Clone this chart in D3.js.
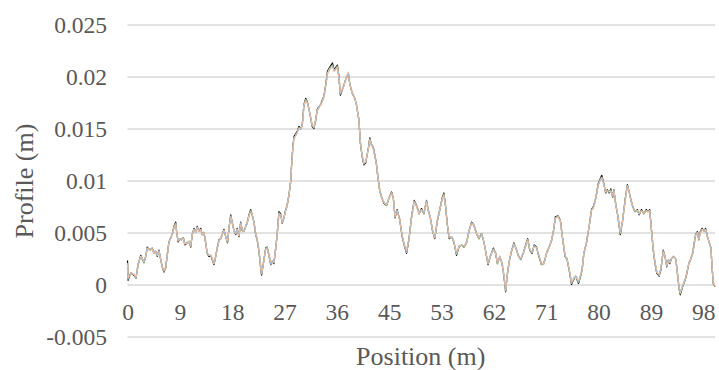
<!DOCTYPE html>
<html>
<head>
<meta charset="utf-8">
<script src="https://cdn.jsdelivr.net/npm/d3@7"></script>
<style>
  html, body { margin: 0; padding: 0; background: #fff; }
  svg { display: block; }
</style>
</head>
<body>
<svg id="chart" width="719" height="370"></svg>
<script>
// Station along the track (m)
const positions = [
  0, 0.1, 0.55, 1.1, 1.45, 1.8, 2.25, 2.5, 2.8, 3.1,
  3.35, 3.8, 4.2, 4.5, 4.8, 5.05, 5.35, 5.65, 5.9, 6.2,
  6.5, 6.75, 7.05, 7.35, 7.6, 7.9, 8.2, 8.35, 8.6, 8.9,
  9.15, 9.5, 9.75, 10.15, 10.45, 10.75, 11, 11.3, 11.6, 11.85,
  12.15, 12.45, 12.7, 13, 13.3, 13.55, 13.85, 14.15, 14.4, 14.7,
  15, 15.25, 15.55, 15.85, 16.1, 16.4, 16.7, 17, 17.25, 17.55,
  17.8, 18.1, 18.4, 18.65, 18.95, 19.25, 19.5, 19.8, 20.1, 20.35,
  20.65, 20.95, 21.2, 21.5, 21.8, 22.05, 22.35, 22.65, 22.8, 23.1,
  23.5, 23.75, 24.05, 24.35, 24.6, 24.9, 25.2, 25.45, 25.75, 26.05,
  26.3, 26.6, 26.9, 27.15, 27.45, 27.75, 27.9, 28.1, 28.3, 28.6,
  28.85, 29.15, 29.45, 29.7, 30, 30.3, 30.55, 30.85, 31.15, 31.4,
  31.7, 32, 32.25, 32.55, 32.85, 33.1, 33.4, 33.7, 34, 34.4,
  34.85, 35.15, 35.45, 35.7, 35.95, 36.2, 36.7, 37.15, 37.55, 37.8,
  38.2, 38.65, 38.9, 39.35, 39.6, 39.9, 40.2, 40.5, 40.95, 41.2,
  41.45, 41.8, 42.1, 42.35, 42.6, 42.9, 43.2, 43.6, 44.05, 44.45,
  44.9, 45.2, 45.5, 45.85, 46.3, 46.7, 47.05, 47.45, 47.85, 48.3,
  48.75, 49.15, 49.6, 50, 50.4, 50.85, 51.1, 51.5, 51.85, 52.25,
  52.65, 53.1, 53.5, 53.8, 54.1, 54.35, 54.7, 55.1, 55.5, 55.95,
  56.35, 56.8, 57.2, 57.65, 58.05, 58.5, 58.9, 59.35, 59.75, 60.2,
  60.6, 60.9, 61.3, 61.7, 62.2, 62.6, 62.9, 63.3, 63.7, 64,
  64.3, 64.55, 64.9, 65.3, 65.7, 66.05, 66.45, 66.85, 67.3, 67.7,
  68.05, 68.4, 68.8, 69.15, 69.55, 69.95, 70.4, 70.8, 71.25, 71.7,
  72.1, 72.45, 72.75, 73.2, 73.6, 73.9, 74.4, 74.75, 75.1, 75.5,
  75.8, 76.2, 76.7, 77.05, 77.3, 77.6, 78.05, 78.5, 78.9, 79.3,
  79.65, 80.05, 80.4, 80.65, 81, 81.3, 81.6, 81.9, 82.2, 82.5,
  82.7, 83, 83.4, 83.8, 84.2, 84.6, 85, 85.3, 85.5, 85.9,
  86.3, 86.7, 87, 87.4, 87.8, 88.2, 88.5, 88.8, 89.1, 89.4,
  89.7, 90, 90.4, 90.7, 91.1, 91.4, 91.7, 92, 92.2, 92.5,
  92.9, 93.25, 93.5, 93.8, 94, 94.4, 94.8, 95.05, 95.45, 95.75,
  96.1, 96.4, 96.6, 96.9, 97.15, 97.4, 97.7, 98, 98.3, 98.6,
  98.9, 99.2, 99.4, 99.6, 99.9
];

// Profile elevation per series, in millimetres
const profileMeasured = [
  2.3, 0.4, 1.1, 0.9, 0.6, 1.9, 2.8, 2.5, 2.1, 2.7,
  3.6, 3.3, 3.5, 3.0, 3.2, 2.7, 3.3, 2.4, 1.7, 1.2,
  1.6, 2.8, 4.1, 4.5, 4.8, 5.6, 6.0, 5.1, 4.1, 4.4,
  4.3, 4.5, 3.8, 4.0, 4.1, 3.6, 4.8, 5.4, 5.0, 5.6,
  5.1, 5.4, 4.8, 5.0, 4.0, 3.0, 2.7, 2.8, 2.4, 1.9,
  2.7, 3.5, 4.3, 4.4, 4.8, 5.3, 4.6, 4.0, 5.4, 6.7,
  6.0, 5.2, 4.8, 5.4, 4.6, 6.0, 5.2, 5.1, 5.6, 5.9,
  6.7, 7.2, 6.7, 6.0, 4.8, 4.3, 3.2, 1.6, 0.9, 2.0,
  3.5, 3.6, 2.8, 1.9, 2.2, 2.0, 3.5, 4.8, 7.0, 6.8,
  5.9, 6.4, 7.2, 7.6, 8.6, 9.9, 11.5, 13.1, 14.2, 14.5,
  14.7, 15.2, 15.0, 15.3, 17.3, 17.9, 17.6, 16.9, 16.0, 15.2,
  15.0, 15.8, 16.8, 17.1, 17.3, 17.7, 18.1, 19.2, 20.5, 20.9,
  21.3, 20.6, 20.9, 21.1, 20.0, 18.2, 19.0, 19.8, 20.3, 19.3,
  18.4, 17.9, 17.4, 15.8, 13.6, 12.3, 11.5, 11.7, 13.1, 14.1,
  13.5, 13.2, 12.3, 11.5, 10.2, 9.0, 8.4, 7.8, 7.6, 8.3,
  8.9, 8.3, 6.4, 7.2, 6.2, 4.6, 3.8, 3.0, 4.3, 6.5,
  8.1, 7.6, 6.8, 7.3, 6.8, 8.1, 7.2, 6.4, 5.2, 4.4,
  6.0, 7.2, 8.3, 8.8, 7.5, 5.9, 4.4, 4.6, 4.1, 2.8,
  3.6, 3.8, 3.6, 4.0, 5.1, 6.0, 5.7, 4.9, 4.4, 4.9,
  4.1, 3.2, 1.9, 2.7, 3.5, 3.0, 2.0, 2.7, 2.0, 0.8,
  -0.7, 0.8, 2.2, 3.2, 4.0, 3.5, 2.8, 2.4, 3.0, 3.8,
  4.4, 3.3, 3.0, 3.8, 3.6, 2.7, 1.9, 2.0, 3.0, 3.6,
  4.2, 5.2, 6.5, 6.6, 6.2, 4.8, 2.7, 2.4, 1.4, 0.0,
  0.4, 0.8, 0.1, 0.8, 1.4, 3.0, 4.0, 5.6, 7.2, 7.6,
  8.4, 9.7, 10.2, 10.5, 9.7, 8.8, 9.1, 8.8, 9.2, 8.4,
  9.1, 7.8, 6.5, 4.8, 6.2, 8.1, 9.6, 8.9, 8.4, 7.5,
  7.0, 7.2, 6.7, 7.2, 6.8, 7.2, 7.0, 7.2, 5.2, 3.3,
  2.0, 1.1, 0.8, 1.4, 3.3, 2.7, 1.7, 2.4, 2.0, 2.5,
  2.7, 2.4, 1.1, -0.4, -1.0, -0.2, 0.4, 0.9, 2.0, 2.4,
  3.0, 4.1, 4.8, 5.1, 4.3, 5.1, 5.4, 5.1, 5.4, 4.6,
  4.1, 3.5, 1.7, 0.1, -0.2
];

const profileRunGreen = [
  2.0, 0.6, 1.0, 1.0, 0.6, 1.9, 2.7, 2.5, 2.1, 2.7,
  3.5, 3.3, 3.5, 3.0, 3.1, 2.8, 3.2, 2.4, 1.7, 1.3,
  1.6, 2.8, 4.1, 4.5, 4.8, 5.5, 5.9, 5.1, 4.2, 4.4,
  4.3, 4.5, 3.9, 4.0, 4.2, 3.7, 4.8, 5.3, 5.0, 5.5,
  5.1, 5.3, 4.8, 5.0, 4.0, 3.0, 2.8, 2.8, 2.5, 2.0,
  2.7, 3.5, 4.2, 4.4, 4.8, 5.2, 4.6, 4.1, 5.4, 6.6,
  6.0, 5.2, 4.9, 5.3, 4.7, 5.9, 5.2, 5.1, 5.6, 5.9,
  6.6, 7.1, 6.7, 6.0, 4.9, 4.3, 3.3, 1.7, 1.0, 2.0,
  3.4, 3.6, 2.8, 2.0, 2.2, 2.1, 3.5, 4.8, 6.9, 6.7,
  6.0, 6.4, 7.1, 7.6, 8.6, 9.9, 11.4, 13.0, 14.1, 14.3,
  14.6, 15.1, 15.0, 15.2, 17.2, 17.8, 17.5, 16.9, 16.0, 15.3,
  15.1, 15.8, 16.7, 17.0, 17.3, 17.6, 18.1, 19.1, 20.3, 20.8,
  21.1, 20.5, 20.8, 21.0, 19.9, 18.3, 19.0, 19.8, 20.3, 19.3,
  18.4, 17.9, 17.4, 15.8, 13.6, 12.4, 11.6, 11.8, 13.0, 14.0,
  13.5, 13.1, 12.3, 11.5, 10.2, 9.0, 8.4, 7.9, 7.6, 8.3,
  8.8, 8.3, 6.5, 7.1, 6.2, 4.7, 3.9, 3.1, 4.3, 6.4,
  8.0, 7.6, 6.8, 7.2, 6.8, 8.0, 7.2, 6.4, 5.2, 4.5,
  6.0, 7.2, 8.2, 8.7, 7.5, 5.9, 4.5, 4.6, 4.1, 2.9,
  3.6, 3.8, 3.6, 4.0, 5.1, 5.9, 5.7, 4.9, 4.4, 4.9,
  4.1, 3.2, 2.0, 2.7, 3.4, 3.0, 2.0, 2.7, 2.0, 0.9,
  -0.6, 0.8, 2.2, 3.2, 3.9, 3.5, 2.8, 2.4, 3.0, 3.7,
  4.3, 3.3, 3.1, 3.7, 3.6, 2.8, 1.9, 2.0, 3.0, 3.6,
  4.2, 5.2, 6.4, 6.6, 6.1, 4.8, 2.8, 2.4, 1.4, 0.1,
  0.5, 0.8, 0.2, 0.9, 1.4, 3.0, 4.0, 5.6, 7.1, 7.5,
  8.4, 9.6, 10.1, 10.3, 9.6, 8.9, 9.0, 8.9, 9.1, 8.5,
  9.0, 7.8, 6.5, 4.9, 6.2, 8.0, 9.5, 8.9, 8.4, 7.5,
  7.0, 7.1, 6.8, 7.1, 6.8, 7.1, 7.0, 7.1, 5.2, 3.4,
  2.1, 1.2, 0.9, 1.5, 3.2, 2.7, 1.8, 2.4, 2.1, 2.5,
  2.7, 2.4, 1.1, -0.4, -0.9, -0.2, 0.4, 1.0, 2.0, 2.4,
  3.0, 4.0, 4.8, 5.0, 4.3, 5.0, 5.3, 5.1, 5.3, 4.6,
  4.1, 3.5, 1.7, 0.1, -0.2
];

const profileRunBlue = [
  2.1, 0.5, 1.2, 0.9, 0.7, 2.0, 2.7, 2.4, 2.2, 2.8,
  3.5, 3.4, 3.4, 3.1, 3.1, 2.8, 3.2, 2.5, 1.8, 1.3,
  1.7, 2.9, 4.0, 4.4, 4.9, 5.5, 5.8, 5.2, 4.2, 4.3,
  4.4, 4.4, 3.9, 4.1, 4.0, 3.7, 4.7, 5.3, 5.1, 5.5,
  5.2, 5.3, 4.9, 4.9, 4.1, 3.1, 2.8, 2.9, 2.4, 2.0,
  2.8, 3.4, 4.2, 4.5, 4.7, 5.2, 4.7, 4.1, 5.3, 6.5,
  6.1, 5.2, 4.9, 5.3, 4.7, 5.9, 5.3, 5.2, 5.5, 6.0,
  6.6, 7.0, 6.8, 6.0, 4.9, 4.4, 3.3, 1.7, 1.0, 2.1,
  3.4, 3.5, 2.9, 2.0, 2.3, 2.1, 3.4, 4.9, 6.8, 6.7,
  6.0, 6.3, 7.1, 7.7, 8.5, 10.0, 11.4, 13.0, 14.0, 14.4,
  14.6, 15.1, 14.9, 15.2, 17.2, 17.7, 17.6, 16.8, 16.1, 15.3,
  15.1, 15.7, 16.7, 17.1, 17.2, 17.7, 18.0, 19.1, 20.3, 20.8,
  21.0, 20.6, 20.7, 20.9, 19.9, 18.3, 19.1, 19.7, 20.3, 19.3,
  18.5, 17.8, 17.4, 15.9, 13.7, 12.4, 11.6, 11.8, 13.0, 13.9,
  13.4, 13.1, 12.4, 11.4, 10.3, 9.0, 8.5, 7.9, 7.7, 8.2,
  8.8, 8.4, 6.5, 7.1, 6.3, 4.7, 3.9, 3.1, 4.4, 6.4,
  8.0, 7.5, 6.9, 7.2, 6.8, 8.0, 7.3, 6.4, 5.3, 4.5,
  6.1, 7.1, 8.2, 8.6, 7.6, 5.9, 4.5, 4.7, 4.2, 2.9,
  3.7, 3.8, 3.7, 4.1, 5.0, 5.9, 5.8, 4.9, 4.5, 4.8,
  4.2, 3.2, 2.0, 2.8, 3.4, 3.1, 2.1, 2.6, 2.1, 0.9,
  -0.6, 0.9, 2.1, 3.2, 3.9, 3.6, 2.7, 2.5, 3.1, 3.7,
  4.3, 3.4, 3.1, 3.7, 3.6, 2.8, 2.0, 2.1, 2.9, 3.6,
  4.3, 5.1, 6.4, 6.5, 6.2, 4.7, 2.8, 2.5, 1.5, 0.2,
  0.5, 0.9, 0.3, 0.9, 1.5, 2.9, 4.1, 5.5, 7.1, 7.5,
  8.3, 9.6, 10.1, 10.3, 9.7, 8.9, 9.0, 8.9, 9.0, 8.5,
  9.0, 7.9, 6.4, 5.0, 6.3, 8.0, 9.5, 9.0, 8.3, 7.5,
  7.1, 7.1, 6.8, 7.1, 6.9, 7.1, 7.1, 7.1, 5.3, 3.4,
  2.1, 1.2, 0.9, 1.5, 3.2, 2.8, 1.8, 2.3, 2.1, 2.6,
  2.7, 2.4, 1.2, -0.3, -0.8, -0.1, 0.5, 1.0, 2.1, 2.4,
  3.1, 4.0, 4.7, 5.0, 4.4, 5.0, 5.3, 5.2, 5.3, 4.6,
  4.1, 3.5, 1.8, 0.2, -0.1
];

const profileRunOrange = [
  2.0, 0.6, 1.1, 1.0, 0.7, 1.9, 2.7, 2.5, 2.2, 2.7,
  3.5, 3.3, 3.4, 3.0, 3.2, 2.8, 3.2, 2.4, 1.8, 1.3,
  1.6, 2.8, 4.0, 4.5, 4.8, 5.5, 5.8, 5.1, 4.2, 4.4,
  4.3, 4.4, 3.9, 4.0, 4.1, 3.7, 4.8, 5.3, 5.0, 5.5,
  5.1, 5.3, 4.8, 5.0, 4.0, 3.1, 2.8, 2.8, 2.5, 2.0,
  2.7, 3.5, 4.2, 4.4, 4.8, 5.2, 4.6, 4.1, 5.4, 6.5,
  6.0, 5.2, 4.9, 5.3, 4.7, 5.9, 5.3, 5.1, 5.6, 5.9,
  6.6, 7.0, 6.7, 6.0, 4.9, 4.3, 3.3, 1.7, 1.1, 2.0,
  3.4, 3.5, 2.8, 2.0, 2.2, 2.1, 3.5, 4.8, 6.8, 6.7,
  6.0, 6.4, 7.1, 7.6, 8.6, 9.9, 11.4, 13.0, 14.0, 14.3,
  14.6, 15.0, 15.0, 15.2, 17.2, 17.7, 17.5, 16.9, 16.1, 15.3,
  15.1, 15.8, 16.7, 17.0, 17.3, 17.6, 18.0, 19.1, 20.3, 20.7,
  21.0, 20.5, 20.7, 20.9, 19.9, 18.4, 19.0, 19.8, 20.4, 19.3,
  18.4, 17.9, 17.4, 15.8, 13.7, 12.4, 11.7, 11.8, 13.0, 13.9,
  13.5, 13.1, 12.3, 11.5, 10.2, 9.0, 8.4, 7.9, 7.7, 8.3,
  8.8, 8.3, 6.5, 7.1, 6.2, 4.7, 3.9, 3.2, 4.3, 6.4,
  8.0, 7.5, 6.8, 7.2, 6.9, 8.0, 7.2, 6.4, 5.2, 4.5,
  6.0, 7.2, 8.2, 8.6, 7.5, 5.9, 4.5, 4.6, 4.2, 3.0,
  3.6, 3.8, 3.7, 4.0, 5.1, 5.9, 5.7, 4.9, 4.5, 4.8,
  4.1, 3.2, 2.0, 2.7, 3.4, 3.0, 2.1, 2.7, 2.0, 0.9,
  -0.5, 0.8, 2.2, 3.2, 3.9, 3.5, 2.7, 2.5, 3.0, 3.7,
  4.3, 3.4, 3.1, 3.7, 3.5, 2.8, 2.0, 2.0, 3.0, 3.6,
  4.2, 5.2, 6.4, 6.5, 6.1, 4.8, 2.8, 2.4, 1.5, 0.2,
  0.5, 0.8, 0.3, 0.9, 1.4, 3.0, 4.0, 5.6, 7.1, 7.5,
  8.4, 9.6, 10.0, 10.3, 9.6, 8.9, 9.0, 8.9, 9.0, 8.5,
  9.0, 7.8, 6.5, 5.0, 6.2, 8.0, 9.5, 8.9, 8.4, 7.5,
  7.1, 7.1, 6.8, 7.1, 6.9, 7.1, 7.0, 7.1, 5.2, 3.4,
  2.1, 1.2, 0.9, 1.5, 3.2, 2.7, 1.8, 2.4, 2.1, 2.5,
  2.7, 2.4, 1.2, -0.3, -0.8, -0.1, 0.5, 1.0, 2.0, 2.4,
  3.0, 4.0, 4.7, 5.0, 4.4, 5.0, 5.3, 5.1, 5.3, 4.6,
  4.1, 3.5, 1.8, 0.2, -0.1
];

// Axis ticks
const yTickValues = [-0.005, 0, 0.005, 0.01, 0.015, 0.02, 0.025];
const yTickLabels = ["-0.005", "0", "0.005", "0.01", "0.015", "0.02", "0.025"];
const xTickValues = [0, 8.9, 17.8, 26.7, 35.6, 44.5, 53.4, 62.3, 71.2, 80.1, 89.0, 97.9];
const xTickLabels = ["0", "9", "18", "27", "36", "45", "53", "62", "71", "80", "89", "98"];

// Series drawn bottom to top
const series = [
  { name: "Measured", values: profileMeasured, color: "#000000", width: 1.2, dash: null, opacity: 1 },
  { name: "Run 1", values: profileRunGreen, color: "#9CCB7E", width: 1.3, dash: null, opacity: 0.9 },
  { name: "Run 2", values: profileRunOrange, color: "#F5BBA2", width: 1.4, dash: null, opacity: 0.95 },
  { name: "Run 3", values: profileRunBlue, color: "#9DB8D8", width: 1.4, dash: "2,3", opacity: 0.95 }
];

const FONT = "Liberation Serif";

const svg = d3.select("#chart");
const plot = { left: 127.5, right: 715, top: 24.5, bottom: 336.5 };

const x = d3.scaleLinear().domain([0, 99.9]).range([plot.left, plot.right]);
const y = d3.scaleLinear().domain([-0.005, 0.025]).range([plot.bottom, plot.top]);

// Horizontal gridlines with tick labels on the left
const yAxis = svg.append("g")
  .attr("transform", `translate(${plot.left},0)`)
  .call(d3.axisLeft(y)
    .tickValues(yTickValues)
    .tickFormat((d, i) => yTickLabels[i])
    .tickSize(-(plot.right - plot.left))
    .tickPadding(20));
yAxis.attr("font-family", FONT);
yAxis.select(".domain").remove();
yAxis.selectAll(".tick line")
  .attr("stroke", "#D9D9D9")
  .attr("stroke-width", 1.5);
yAxis.selectAll(".tick text")
  .attr("font-family", FONT)
  .attr("font-size", 23.5)
  .attr("fill", "#595959")
  .attr("x", 107 - plot.left)
  .attr("dy", "0.33em");

// Category labels under the zero line
const xAxis = svg.append("g")
  .attr("transform", `translate(0,${y(0)})`)
  .call(d3.axisBottom(x)
    .tickValues(xTickValues)
    .tickFormat((d, i) => xTickLabels[i])
    .tickSize(0)
    .tickPadding(0));
xAxis.attr("font-family", FONT);
xAxis.select(".domain").remove();
xAxis.selectAll(".tick text")
  .attr("font-family", FONT)
  .attr("font-size", 23.5)
  .attr("fill", "#595959")
  .attr("y", 35)
  .attr("dy", 0);

// Profile lines
const line = d3.line()
  .x((d, i) => x(positions[i]))
  .y(d => y(d / 1000));

svg.append("g")
  .selectAll("path")
  .data(series)
  .join("path")
  .attr("d", d => line(d.values))
  .attr("fill", "none")
  .attr("stroke", d => d.color)
  .attr("stroke-width", d => d.width)
  .attr("stroke-opacity", d => d.opacity)
  .attr("stroke-dasharray", d => d.dash)
  .attr("stroke-linejoin", "round");

// Axis titles
svg.append("text")
  .attr("x", (plot.left + plot.right) / 2 - 0.5)
  .attr("y", 365)
  .attr("text-anchor", "middle")
  .attr("font-family", FONT)
  .attr("font-size", 26)
  .attr("fill", "#595959")
  .text("Position (m)");

svg.append("text")
  .attr("transform", "translate(33,181) rotate(-90)")
  .attr("text-anchor", "middle")
  .attr("font-family", FONT)
  .attr("font-size", 26)
  .attr("fill", "#595959")
  .text("Profile (m)");
</script>
</body>
</html>
